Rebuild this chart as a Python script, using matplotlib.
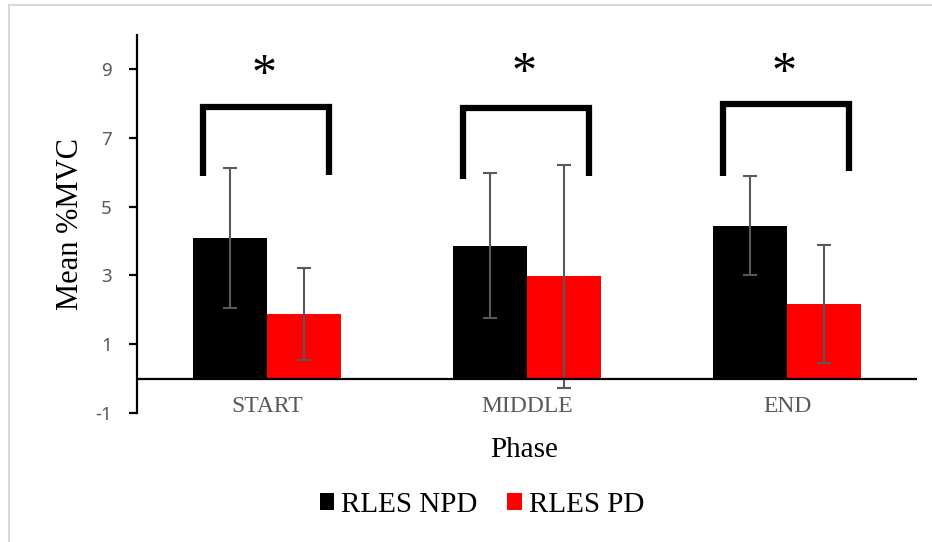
import matplotlib.pyplot as plt
from matplotlib.lines import Line2D
import numpy as np

plt.rcParams["axes.unicode_minus"] = False

# Datos
phases = ["START", "MIDDLE", "END"]
npd_mean = [4.09, 3.87, 4.45]
npd_err = [2.03, 2.10, 1.45]
pd_mean = [1.88, 2.98, 2.16]
pd_err = [1.34, 3.24, 1.72]

# Corchetes de significancia (altura superior, extremo izq., extremo der.)
bracket_top = [7.91, 7.86, 7.99]
bracket_left_end = [5.88, 5.80, 5.90]
bracket_right_end = [5.91, 5.90, 6.03]
star_y = [8.8, 8.85, 8.85]

serif = ["Liberation Serif", "DejaVu Serif"]
gray = "#595959"

fig = plt.figure(figsize=(9.32, 5.42), dpi=100)
ax = fig.add_axes([0.147, 0.238, 0.837, 0.698])

x = np.arange(len(phases))
w = 0.285

ax.bar(x - w / 2, npd_mean, w, color="black", label="RLES NPD")
ax.bar(x + w / 2, pd_mean, w, color="#ff0000", label="RLES PD")
ax.errorbar(x - w / 2, npd_mean, yerr=npd_err, fmt="none", ecolor=gray,
            elinewidth=1.5, capsize=5, capthick=1.5)
ax.errorbar(x + w / 2, pd_mean, yerr=pd_err, fmt="none", ecolor=gray,
            elinewidth=1.5, capsize=5, capthick=1.5)

# Corchetes y asteriscos
for i in range(len(phases)):
    xl = x[i] - 0.245
    xr = x[i] + 0.24
    ax.plot([xl, xl, xr, xr],
            [bracket_left_end[i], bracket_top[i], bracket_top[i], bracket_right_end[i]],
            color="black", lw=4.5, solid_joinstyle="miter", solid_capstyle="butt")
    ax.text(x[i] - 0.01, star_y[i], "*", ha="center", va="center",
            fontsize=36, family=serif, color="black")

# Línea del eje x en cero
ax.axhline(0, color="black", lw=1.6, zorder=3)

ax.set_xlim(-0.5, 2.5)
ax.set_ylim(-1, 10)
ax.set_yticks([-1, 1, 3, 5, 7, 9])
ax.set_xticks([])
for s in ["top", "right", "bottom"]:
    ax.spines[s].set_visible(False)
ax.spines["left"].set_linewidth(1.6)
ax.tick_params(axis="y", length=6, width=1.6, pad=12, labelsize=13.5,
               labelcolor=gray)
for lab in ax.get_yticklabels():
    lab.set_family(["Noto Sans", "DejaVu Sans"])

for i, name in enumerate(phases):
    ax.text(x[i], -0.8, name, ha="center", va="center", fontsize=17,
            family=serif, color=gray)

ax.set_ylabel("Mean %MVC", fontsize=22, family=serif, labelpad=7)
fig.text(0.562, 0.170, "Phase", ha="center", va="center", fontsize=21,
         family=serif)

leg = fig.legend(loc="center", bbox_to_anchor=(0.517, 0.068), ncol=2,
                 frameon=False, handlelength=0.5, handleheight=0.5,
                 handletextpad=0.25, columnspacing=1.0,
                 prop={"family": serif, "size": 21})

# Marco gris de la figura (arriba e izquierda)
fig.add_artist(Line2D([9 / 932, 1], [1 - 5 / 542, 1 - 5 / 542],
                      transform=fig.transFigure, color="#d9d9d9", lw=1.5))
fig.add_artist(Line2D([9 / 932, 9 / 932], [0, 1 - 5 / 542],
                      transform=fig.transFigure, color="#d9d9d9", lw=1.5))

fig.savefig("out.png", dpi=100)
